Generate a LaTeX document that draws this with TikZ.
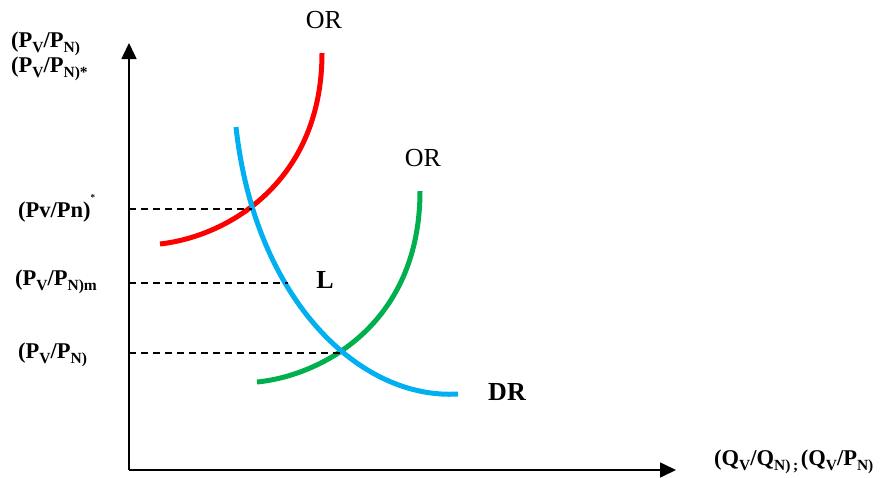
\documentclass[tikz,border=0pt]{standalone}
\usepackage{fontspec}
\setmainfont{Liberation Serif}
\usetikzlibrary{arrows.meta, positioning}
\definecolor{orred}{rgb}{1, 0, 0}
\definecolor{drblue}{rgb}{0, 0.69, 0.94}
\definecolor{orgreen}{rgb}{0, 0.69, 0.31}
\newcommand{\lowsub}[1]{\raisebox{-0.22em}{\fontsize{15.5}{15.5}\selectfont #1}}
\newcommand{\highsup}[1]{\raisebox{0.75em}{\fontsize{9}{9}\selectfont #1}}
\tikzstyle{axis} = [line width=1.6pt, -{Triangle[length=16pt, width=15pt]}]
\tikzstyle{curve} = [line width=5pt]
\tikzstyle{level} = [line width=1.2pt, dash pattern=on 7pt off 5pt]
\tikzstyle{price} = [anchor=west, inner sep=0pt, font=\fontsize{22.5}{24}\selectfont\bfseries]
\tikzstyle{tag} = [inner sep=0pt, font=\fontsize{26}{28}\selectfont]

\begin{document}
\begin{tikzpicture}[x=1pt, y=-1pt]
\useasboundingbox (0,0) rectangle (880,477);

\coordinate (O) at (129,470);
\coordinate (ytop) at (129,43);
\coordinate (xend) at (676,470);

\draw[axis] (O) -- (ytop);
\draw[axis] (O) -- (xend);

% curves
\coordinate (redA) at (160,244);
\coordinate (redB) at (322,53);
\draw[curve, orred] (redA) .. controls (230,236) and (322,180) .. (redB);

\coordinate (greenA) at (257,382);
\coordinate (greenB) at (420,191);
\draw[curve, orgreen] (greenA) .. controls (320,376) and (420,325) .. (greenB);

\coordinate (blueA) at (236,127);
\coordinate (blueB) at (458,394);
\draw[curve, drblue] (blueA) .. controls (255,300) and (360,400) .. (blueB);

% levels
\coordinate (star) at (129,209);
\coordinate (starX) at (252,209);
\coordinate (mid) at (129,283);
\coordinate (midX) at (288,283);
\coordinate (low) at (129,353);
\coordinate (lowX) at (340,353);
\draw[level] (star) -- (starX);
\draw[level] (mid) -- (midX);
\draw[level] (low) -- (lowX);

% labels
\node (ylab) [price] at (11,44) {(P\lowsub{V}/P\lowsub{N)}};
\node (ylabstar) [price] at (11,69) {(P\lowsub{V}/P\lowsub{N)*}};
\node (pstar) [price] at (18,208) {(Pv/Pn)\highsup{*}};
\node (pm) [price] at (15,282) {(P\lowsub{V}/P\lowsub{N)m}};
\node (plow) [price] at (18,355) {(P\lowsub{V}/P\lowsub{N)}};
\node (xlab) [price] at (714,462) {(Q\lowsub{V}/Q\lowsub{N)\,;\,}(Q\lowsub{V}/P\lowsub{N)}};

\node (ORtop) [tag] at (324,20) {OR};
\node (ORlow) [tag] at (423,158) {OR};
\node (L) [tag, font=\fontsize{26}{28}\selectfont\bfseries] at (325,280) {L};
\node (DR) [tag, font=\fontsize{26}{28}\selectfont\bfseries] at (507,392) {DR};

\end{tikzpicture}
\end{document}
